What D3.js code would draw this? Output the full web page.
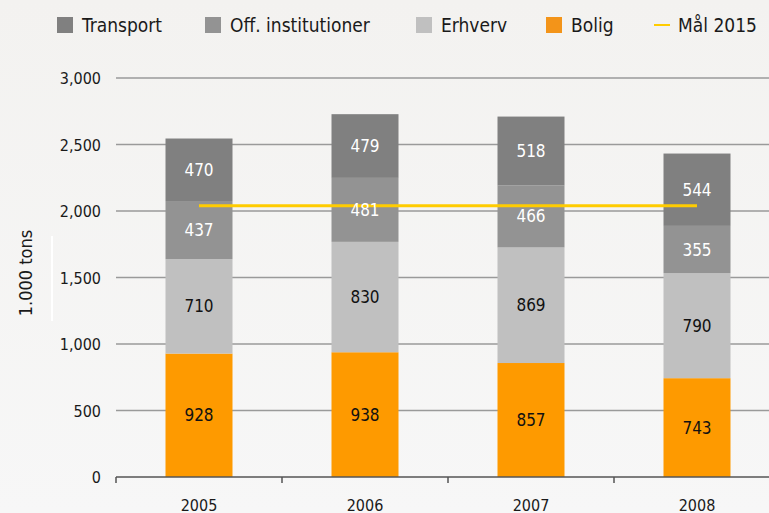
<!DOCTYPE html>
<html>
<head>
<meta charset="utf-8">
<script src="https://cdn.jsdelivr.net/npm/d3@7"></script>
<style>
  html, body { margin: 0; padding: 0; }
  body { width: 769px; height: 513px; overflow: hidden; }
  text { font-family: "DejaVu Sans Condensed", "DejaVu Sans", sans-serif; }
</style>
</head>
<body>
<div id="chart"></div>
<script>
// chart data
var years = ["2005", "2006", "2007", "2008"];
var bolig = [928, 938, 857, 743];
var erhverv = [710, 830, 869, 790];
var offInst = [437, 481, 466, 355];
var transport = [470, 479, 518, 544];
var totals = ["2,534", "2,737", "2,716", "2,432"];
var goal2015 = 2040;
var yTicks = [0, 500, 1000, 1500, 2000, 2500, 3000];

var seriesNames = ["Bolig", "Erhverv", "Off. institutioner", "Transport"];
var seriesColors = ["#fe9a00", "#c0c0c0", "#939393", "#808080"];
var labelColors = ["#111", "#111", "#fff", "#fff"];

var width = 769;
var height = 513;
var left = 116;
var bandW = 166;

var rows = years.map(function(y, i) {
    return {year: y, "Bolig": bolig[i], "Erhverv": erhverv[i],
        "Off. institutioner": offInst[i], "Transport": transport[i], total: totals[i]};
});

var svg = d3.select("#chart")
    .append("svg")
        .attr("width", width)
        .attr("height", height);

var grad = svg.append("defs").append("linearGradient")
    .attr("id", "bg").attr("x1", 0).attr("y1", 0).attr("x2", 0).attr("y2", 1);
grad.append("stop").attr("offset", "0%").attr("stop-color", "#f3f2f0");
grad.append("stop").attr("offset", "100%").attr("stop-color", "#f7f7f7");
svg.append("rect").attr("width", width).attr("height", height).attr("fill", "url(#bg)");

var x = d3.scaleBand()
    .domain(years)
    .range([left, left + bandW * years.length])
    .paddingInner(0).paddingOuter(0);

var y = d3.scaleLinear()
    .domain([0, 3000])
    .range([477, 78]);

// grid lines
svg.append("g")
    .selectAll("line")
    .data(yTicks.slice(1))
    .enter()
    .append("line")
    .attr("x1", left).attr("x2", width)
    .attr("y1", function(d) { return y(d); })
    .attr("y2", function(d) { return y(d); })
    .style("stroke", "#9a9a9a")
    .style("stroke-width", 1.5);

// y tick labels
svg.append("g")
    .selectAll("text")
    .data(yTicks)
    .enter()
    .append("text")
    .attr("x", 101)
    .attr("y", function(d) { return y(d) + 6; })
    .attr("text-anchor", "end")
    .style("font-size", "16px")
    .style("fill", "#1a1a1a")
    .text(function(d) { return d3.format(",")(d); });

// y axis title
svg.append("text")
    .attr("transform", "translate(32,273)rotate(-90)")
    .attr("text-anchor", "middle")
    .style("font-size", "18px")
    .style("fill", "#1a1a1a")
    .text("1.000 tons");

svg.append("line")
    .attr("x1", 52).attr("x2", 52).attr("y1", 236).attr("y2", 321)
    .style("stroke", "#fff").style("stroke-width", 2);

// stacked bars
var stack = d3.stack().keys(seriesNames);
var stacked = stack(rows);
var barW = 67;

var layers = svg.append("g")
    .selectAll("g")
    .data(stacked)
    .enter()
    .append("g")
    .attr("fill", function(d, i) { return seriesColors[i]; });

layers.selectAll("rect")
    .data(function(d) { return d; })
    .enter()
    .append("rect")
    .attr("x", function(d) { return x(d.data.year) + (bandW - barW) / 2; })
    .attr("width", barW)
    .attr("y", function(d) { return y(d[1]); })
    .attr("height", function(d) { return y(d[0]) - y(d[1]); });

// x axis
svg.append("line")
    .attr("x1", left).attr("x2", width)
    .attr("y1", y(0)).attr("y2", y(0))
    .style("stroke", "#555")
    .style("stroke-width", 1.5);

svg.append("g")
    .selectAll("line")
    .data(years)
    .enter()
    .append("line")
    .attr("x1", function(d) { return x(d); })
    .attr("x2", function(d) { return x(d); })
    .attr("y1", y(0)).attr("y2", y(0) + 6)
    .style("stroke", "#555")
    .style("stroke-width", 1.5);

svg.append("g")
    .selectAll("text")
    .data(years)
    .enter()
    .append("text")
    .attr("x", function(d) { return x(d) + bandW / 2; })
    .attr("y", 511)
    .attr("text-anchor", "middle")
    .style("font-size", "16px")
    .style("fill", "#1a1a1a")
    .text(function(d) { return d; });

// goal line
svg.append("line")
    .attr("x1", x(years[0]) + bandW / 2)
    .attr("x2", x(years[years.length - 1]) + bandW / 2)
    .attr("y1", y(goal2015)).attr("y2", y(goal2015))
    .style("stroke", "#ffcc00")
    .style("stroke-width", 3);

// segment labels
stacked.forEach(function(layer, i) {
    svg.append("g")
        .selectAll("text")
        .data(layer)
        .enter()
        .append("text")
        .attr("x", function(d) { return x(d.data.year) + bandW / 2; })
        .attr("y", function(d) { return (y(d[0]) + y(d[1])) / 2 + 6; })
        .attr("text-anchor", "middle")
        .style("font-size", "17px")
        .style("fill", labelColors[i])
        .text(function(d) { return d.data[layer.key]; });
});

// totals
var top = stacked[stacked.length - 1];
svg.append("g")
    .selectAll("text")
    .data(top)
    .enter()
    .append("text")
    .attr("x", function(d) { return x(d.data.year) + bandW / 2; })
    .attr("y", function(d) { return y(d[1]) - 15; })
    .attr("text-anchor", "middle")
    .style("font-size", "17px")
    .style("fill", "#111")
    .text(function(d) { return d.data.total; });

// legend
var legendItems = [
    {name: "Transport", color: "#808080", x: 57},
    {name: "Off. institutioner", color: "#939393", x: 205},
    {name: "Erhverv", color: "#c0c0c0", x: 416},
    {name: "Bolig", color: "#f39419", x: 546}
];
var legend = svg.append("g");
legend.selectAll("rect")
    .data(legendItems)
    .enter()
    .append("rect")
    .attr("x", function(d) { return d.x; })
    .attr("y", 17)
    .attr("width", 16).attr("height", 16)
    .attr("fill", function(d) { return d.color; });
legend.selectAll("text")
    .data(legendItems)
    .enter()
    .append("text")
    .attr("x", function(d) { return d.x + 25; })
    .attr("y", 32)
    .style("font-size", "19px")
    .style("fill", "#1a1a1a")
    .text(function(d) { return d.name; });
legend.append("line")
    .attr("x1", 654).attr("x2", 670).attr("y1", 25).attr("y2", 25)
    .style("stroke", "#ffcc00").style("stroke-width", 2);
legend.append("text")
    .attr("x", 678).attr("y", 32)
    .style("font-size", "19px")
    .style("fill", "#1a1a1a")
    .text("Mål 2015");
</script>
</body>
</html>
